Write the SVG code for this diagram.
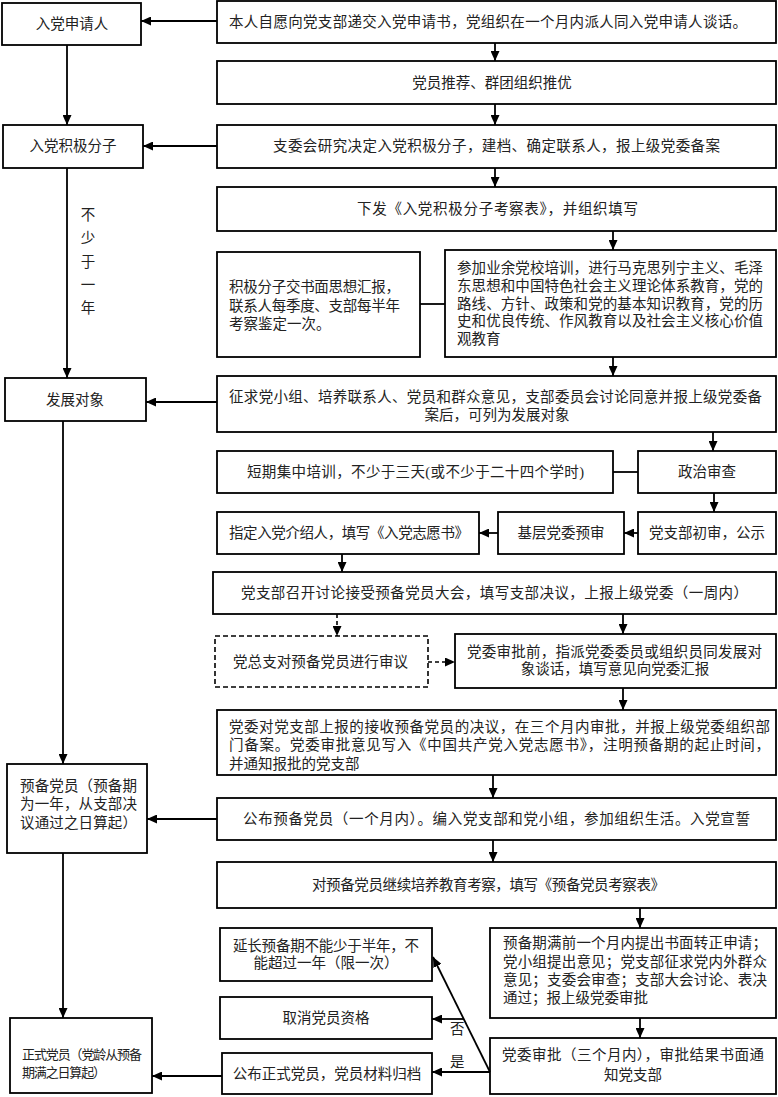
<svg xmlns="http://www.w3.org/2000/svg" width="778" height="1097" viewBox="0 0 778 1097">
<style>
rect.b{fill:#fff;stroke:#000;stroke-width:1.8}
rect.d{fill:#fff;stroke:#000;stroke-width:1.6;stroke-dasharray:5,3}
text{font-family:"Liberation Serif","Noto Sans CJK SC",serif;font-size:14.5px;fill:#222}
.c{text-anchor:middle}
.s{font-size:13px}
line.k{stroke:#000;stroke-width:1.8}
line.a{stroke:#000;stroke-width:1.8;marker-end:url(#ah)}
line.da{stroke:#000;stroke-width:1.6;stroke-dasharray:4,3;marker-end:url(#ah)}
</style>
<defs>
<marker id="ah" markerUnits="userSpaceOnUse" markerWidth="11" markerHeight="9" refX="10" refY="4.5" orient="auto">
<path d="M0,0 L10,4.5 L0,9 z" fill="#000"/>
</marker>
</defs>
<rect width="778" height="1097" fill="#fff"/>

<g id="n-applicant"><rect class="b" x="2" y="3" width="139" height="42"/><text class="c" x="72" y="29">入党申请人</text></g>
<g id="n-activist"><rect class="b" x="3" y="125" width="140" height="43"/><text class="c" x="73" y="151">入党积极分子</text></g>
<g id="n-develop"><rect class="b" x="5" y="378" width="141" height="43"/><text class="c" x="75" y="405">发展对象</text></g>
<g id="n-probation"><rect class="b" x="7" y="764" width="140" height="89"/>
<text x="20" y="791" textLength="117">预备党员（预备期</text>
<text x="20" y="809" textLength="117">为一年，从支部决</text>
<text x="20" y="828" textLength="117">议通过之日算起）</text></g>
<g id="n-full"><rect class="b" x="10" y="1018" width="142" height="75"/>
<text class="s" x="22" y="1059" textLength="120">正式党员（党龄从预备</text>
<text class="s" x="22" y="1077" textLength="84">期满之日算起）</text></g>

<g id="n-b1"><rect class="b" x="217" y="1" width="559" height="42"/><text x="229" y="27" textLength="518">本人自愿向党支部递交入党申请书，党组织在一个月内派人同入党申请人谈话。</text></g>
<g id="n-b2"><rect class="b" x="217" y="61" width="559" height="43"/><text class="c" x="492" y="88">党员推荐、群团组织推优</text></g>
<g id="n-b3"><rect class="b" x="217" y="125" width="559" height="43"/><text x="273" y="151" textLength="447">支委会研究决定入党积极分子，建档、确定联系人，报上级党委备案</text></g>
<g id="n-b4"><rect class="b" x="217" y="187" width="559" height="44"/><text x="357" y="214" textLength="281">下发《入党积极分子考察表》，并组织填写</text></g>
<g id="n-b5"><rect class="b" x="217" y="252" width="203" height="105"/>
<text x="229" y="292" textLength="171">积极分子交书面思想汇报，</text>
<text x="229" y="311" textLength="171">联系人每季度、支部每半年</text>
<text x="229" y="329">考察鉴定一次。</text></g>
<g id="n-b6"><rect class="b" x="445" y="250" width="331" height="107"/>
<text x="457" y="273" textLength="306">参加业余党校培训，进行马克思列宁主义、毛泽</text>
<text x="457" y="291" textLength="306">东思想和中国特色社会主义理论体系教育，党的</text>
<text x="457" y="308.5" textLength="306">路线、方针、政策和党的基本知识教育，党的历</text>
<text x="457" y="326" textLength="306">史和优良传统、作风教育以及社会主义核心价值</text>
<text x="457" y="343.5">观教育</text></g>
<g id="n-b7"><rect class="b" x="217" y="376" width="559" height="56"/>
<text x="229" y="402" textLength="533">征求党小组、培养联系人、党员和群众意见，支部委员会讨论同意并报上级党委备</text>
<text class="c" x="497" y="420">案后，可列为发展对象</text></g>
<g id="n-training"><rect class="b" x="217" y="451" width="396" height="42"/><text x="247" y="477" textLength="337">短期集中培训，不少于三天(或不少于二十四个学时)</text></g>
<g id="n-political"><rect class="b" x="638" y="451" width="138" height="42"/><text class="c" x="707" y="477">政治审查</text></g>
<g id="n-introducer"><rect class="b" x="217" y="512" width="262" height="42"/><text x="229" y="538" textLength="240">指定入党介绍人，填写《入党志愿书》</text></g>
<g id="n-prereview"><rect class="b" x="498" y="512" width="126" height="42"/><text class="c" x="561" y="538">基层党委预审</text></g>
<g id="n-initial"><rect class="b" x="638" y="512" width="138" height="42"/><text class="c" x="707" y="538">党支部初审，公示</text></g>
<g id="n-meeting"><rect class="b" x="213" y="572" width="563" height="42"/><text x="241" y="598" textLength="507">党支部召开讨论接受预备党员大会，填写支部决议，上报上级党委（一周内）</text></g>
<g id="n-general"><rect class="d" x="215" y="636" width="213" height="51"/><text x="233" y="667" textLength="175">党总支对预备党员进行审议</text></g>
<g id="n-talk"><rect class="b" x="455" y="634" width="321" height="54"/>
<text x="467" y="657" textLength="295">党委审批前，指派党委委员或组织员同发展对</text>
<text class="c" x="615" y="674">象谈话，填写意见向党委汇报</text></g>
<g id="n-approve"><rect class="b" x="217" y="710" width="559" height="65"/>
<text x="229" y="732" textLength="541">党委对党支部上报的接收预备党员的决议，在三个月内审批，并报上级党委组织部</text>
<text x="229" y="750" textLength="541">门备案。党委审批意见写入《中国共产党入党志愿书》，注明预备期的起止时间，</text>
<text x="229" y="769">并通知报批的党支部</text></g>
<g id="n-announce"><rect class="b" x="217" y="798" width="559" height="42"/><text x="243" y="824" textLength="507">公布预备党员（一个月内）。编入党支部和党小组，参加组织生活。入党宣誓</text></g>
<g id="n-continue"><rect class="b" x="217" y="862" width="559" height="46"/><text x="312" y="890" textLength="353">对预备党员继续培养教育考察，填写《预备党员考察表》</text></g>
<g id="n-extend"><rect class="b" x="220" y="928" width="212" height="53"/>
<text class="c" x="326" y="951" textLength="186">延长预备期不能少于半年，不</text>
<text class="c" x="326" y="968">能超过一年（限一次）</text></g>
<g id="n-cancel"><rect class="b" x="220" y="997" width="212" height="42"/><text class="c" x="326" y="1023">取消党员资格</text></g>
<g id="n-publish"><rect class="b" x="222" y="1053" width="210" height="41"/><text class="c" x="327" y="1079">公布正式党员，党员材料归档</text></g>
<g id="n-apply"><rect class="b" x="490" y="928" width="286" height="90"/>
<text x="503" y="948" textLength="264">预备期满前一个月内提出书面转正申请；</text>
<text x="503" y="967" textLength="264">党小组提出意见；党支部征求党内外群众</text>
<text x="503" y="985" textLength="264">意见；支委会审查；支部大会讨论、表决</text>
<text x="503" y="1003">通过；报上级党委审批</text></g>
<g id="n-final"><rect class="b" x="490" y="1038" width="286" height="56"/>
<text class="c" x="633" y="1060" textLength="262">党委审批（三个月内），审批结果书面通</text>
<text class="c" x="633" y="1080">知党支部</text></g>

<g id="connectors">
<line class="a" x1="217" y1="21" x2="141" y2="21"/>
<line class="a" x1="67" y1="45" x2="67" y2="125"/>
<line class="a" x1="495" y1="43" x2="495" y2="61"/>
<line class="a" x1="495" y1="104" x2="495" y2="125"/>
<line class="a" x1="217" y1="146" x2="143" y2="146"/>
<line class="a" x1="495" y1="168" x2="495" y2="187"/>
<line class="a" x1="67" y1="168" x2="67" y2="378"/>
<line class="a" x1="613" y1="231" x2="613" y2="250"/>
<line class="k" x1="420" y1="304" x2="445" y2="304"/>
<line class="a" x1="613" y1="357" x2="613" y2="376"/>
<line class="a" x1="217" y1="402" x2="146" y2="402"/>
<line class="a" x1="63" y1="421" x2="63" y2="764"/>
<line class="a" x1="713" y1="432" x2="713" y2="451"/>
<line class="k" x1="613" y1="472" x2="638" y2="472"/>
<line class="a" x1="714" y1="493" x2="714" y2="512"/>
<line class="a" x1="638" y1="533" x2="624" y2="533"/>
<line class="a" x1="498" y1="533" x2="479" y2="533"/>
<line class="a" x1="342" y1="554" x2="342" y2="572"/>
<line class="da" x1="337" y1="614" x2="337" y2="636"/>
<line class="a" x1="623" y1="614" x2="623" y2="634"/>
<line class="da" x1="428" y1="662" x2="455" y2="662"/>
<line class="a" x1="623" y1="688" x2="623" y2="710"/>
<line class="a" x1="493" y1="775" x2="493" y2="798"/>
<line class="a" x1="217" y1="819" x2="147" y2="819"/>
<line class="a" x1="493" y1="840" x2="493" y2="862"/>
<line class="a" x1="63" y1="853" x2="63" y2="1018"/>
<line class="a" x1="640" y1="908" x2="640" y2="928"/>
<line class="a" x1="640" y1="1018" x2="640" y2="1038"/>
<line class="a" x1="490" y1="1072" x2="433" y2="957"/>
<line class="a" x1="490" y1="1072" x2="432" y2="1072"/>
<line class="a" x1="464" y1="1019" x2="432" y2="1019"/>
<line class="a" x1="222" y1="1076" x2="152" y2="1076"/>
<text x="450" y="1034" font-size="13">否</text>
<text x="450" y="1067" font-size="13">是</text>
</g>

<g id="label-year">
<text class="c" x="88" y="220">不</text>
<text class="c" x="88" y="243">少</text>
<text class="c" x="88" y="267">于</text>
<text class="c" x="88" y="290">一</text>
<text class="c" x="88" y="313">年</text>
</g>
</svg>
